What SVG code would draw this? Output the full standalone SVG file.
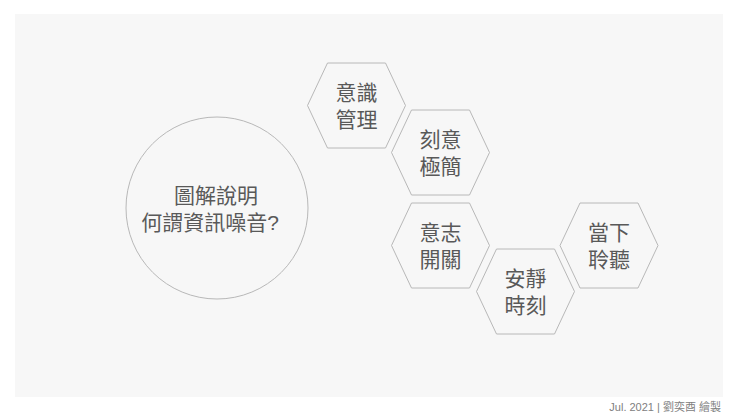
<svg xmlns="http://www.w3.org/2000/svg" width="740" height="416" viewBox="0 0 740 416">
  <defs>
    <style>
      .shape { fill: none; stroke: #b8b8b8; stroke-width: 1; }
      .t { font-family: "Liberation Sans", "Noto Sans CJK TC", "Noto Sans CJK SC", sans-serif; font-size: 21px; fill: #595959; text-anchor: middle; }
      .foot { font-family: "Liberation Sans", "Noto Sans CJK TC", sans-serif; font-size: 11px; fill: #808080; text-anchor: end; }
    </style>
    <polygon id="hex" points="-49,0 -29,-42.5 29,-42.5 49,0 29,42.5 -29,42.5"/>
  </defs>
  <rect x="0" y="0" width="740" height="416" fill="#ffffff"/>
  <rect x="15" y="14" width="708" height="383" fill="#f7f7f7"/>

  <g id="connectors"></g>

  <g id="center-circle">
    <circle class="shape" cx="217" cy="208" r="91"/>
    <text class="t" x="216" y="203">圖解說明</text>
    <text class="t" x="210" y="230">何謂資訊噪音?</text>
  </g>

  <g id="hex-1" transform="translate(356.5,105.5)">
    <use href="#hex" class="shape"/>
    <text class="t" x="0" y="-6">意識</text>
    <text class="t" x="0" y="21">管理</text>
  </g>
  <g id="hex-2" transform="translate(440.5,152.5)">
    <use href="#hex" class="shape"/>
    <text class="t" x="0" y="-6">刻意</text>
    <text class="t" x="0" y="21">極簡</text>
  </g>
  <g id="hex-3" transform="translate(440.5,245.5)">
    <use href="#hex" class="shape"/>
    <text class="t" x="0" y="-6">意志</text>
    <text class="t" x="0" y="21">開關</text>
  </g>
  <g id="hex-4" transform="translate(525.5,291.5)">
    <use href="#hex" class="shape"/>
    <text class="t" x="0" y="-6">安靜</text>
    <text class="t" x="0" y="21">時刻</text>
  </g>
  <g id="hex-5" transform="translate(609,245.5)">
    <use href="#hex" class="shape"/>
    <text class="t" x="0" y="-6">當下</text>
    <text class="t" x="0" y="21">聆聽</text>
  </g>

  <g id="footer">
    <text class="foot" x="721" y="411">Jul. 2021 | 劉奕酉 繪製</text>
  </g>
</svg>
